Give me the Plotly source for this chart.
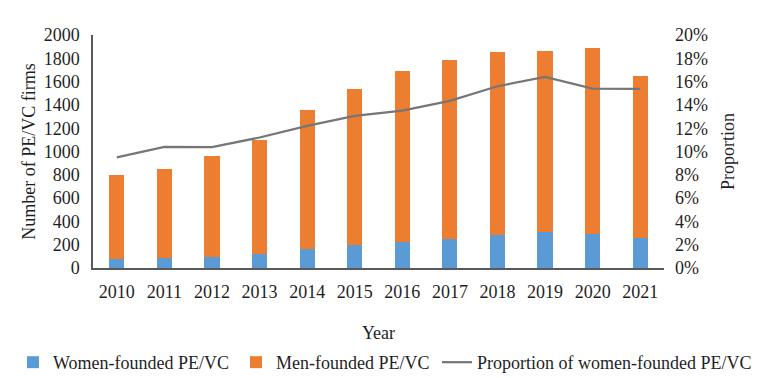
import plotly.graph_objects as go

years = ["2010", "2011", "2012", "2013", "2014", "2015", "2016", "2017", "2018", "2019", "2020", "2021"]
women = [76, 88, 98, 120, 162, 196, 225, 252, 285, 305, 292, 254]
total = [800, 852, 960, 1100, 1357, 1537, 1688, 1785, 1851, 1862, 1886, 1648]
men = [t - w for t, w in zip(total, women)]
proportion = [0.095, 0.104, 0.1037, 0.112, 0.122, 0.1305, 0.135, 0.1434, 0.156, 0.164, 0.154, 0.1537]

FONT = "Liberation Serif, Times New Roman, serif"
TXT = "#1f1f1f"
AX = "#595959"

fig = go.Figure()
fig.add_trace(go.Bar(x=years, y=women, name="Women-founded PE/VC", legend="legend",
                     showlegend=True,
                     marker=dict(color="#5B9BD5", line=dict(width=0))))
fig.add_trace(go.Bar(x=years, y=men, name="Men-founded PE/VC", legend="legend2",
                     showlegend=True,
                     marker=dict(color="#ED7D31", line=dict(width=0))))
fig.add_trace(go.Scatter(x=years, y=proportion, name="Proportion of women-founded PE/VC",
                         legend="legend3", mode="lines", showlegend=True,
                         line=dict(color="#767676", width=2.25), yaxis="y2"))

leg_common = dict(orientation="h", xref="container", yref="container",
                  xanchor="left", y=0.090, yanchor="top",
                  font=dict(size=18, color=TXT), bgcolor="rgba(0,0,0,0)")

fig.update_layout(
    width=768, height=378, showlegend=True,
    barmode="stack", bargap=0.68,
    paper_bgcolor="white", plot_bgcolor="white",
    margin=dict(l=93, r=104, t=35, b=110, autoexpand=False),
    font=dict(family=FONT, size=18, color=TXT),
    xaxis=dict(
        title=dict(text="Year", font=dict(size=18, color=TXT), standoff=25),
        showline=True, linecolor=AX, linewidth=1.5, ticks="", showgrid=False,
        tickfont=dict(size=18, color=TXT), ticklabelstandoff=7, automargin=False,
    ),
    yaxis=dict(
        title=dict(text="Number of PE/VC firms", font=dict(size=18, color=TXT), standoff=3),
        range=[0, 2000], dtick=200, showline=True, linecolor=AX, linewidth=1.5,
        showgrid=False, ticks="", zeroline=False, tickfont=dict(size=18, color=TXT),
        ticklabelstandoff=8, automargin=False,
    ),
    yaxis2=dict(
        title=dict(text="Proportion", font=dict(size=18, color=TXT), standoff=14),
        range=[0, 0.2], dtick=0.02, tickformat=".0%", overlaying="y", side="right",
        showline=False, showgrid=False, ticks="", zeroline=False,
        tickfont=dict(size=18, color=TXT), ticklabelstandoff=10, automargin=False,
    ),
    legend=dict(x=0.0169, **leg_common),
    legend2=dict(x=0.3073, **leg_common),
    legend3=dict(x=0.569, **leg_common),
)

fig.write_html(
    "out.html",
    config={"displayModeBar": False},
    post_script="document.body.style.margin='0';document.body.style.overflow='hidden';",
)
